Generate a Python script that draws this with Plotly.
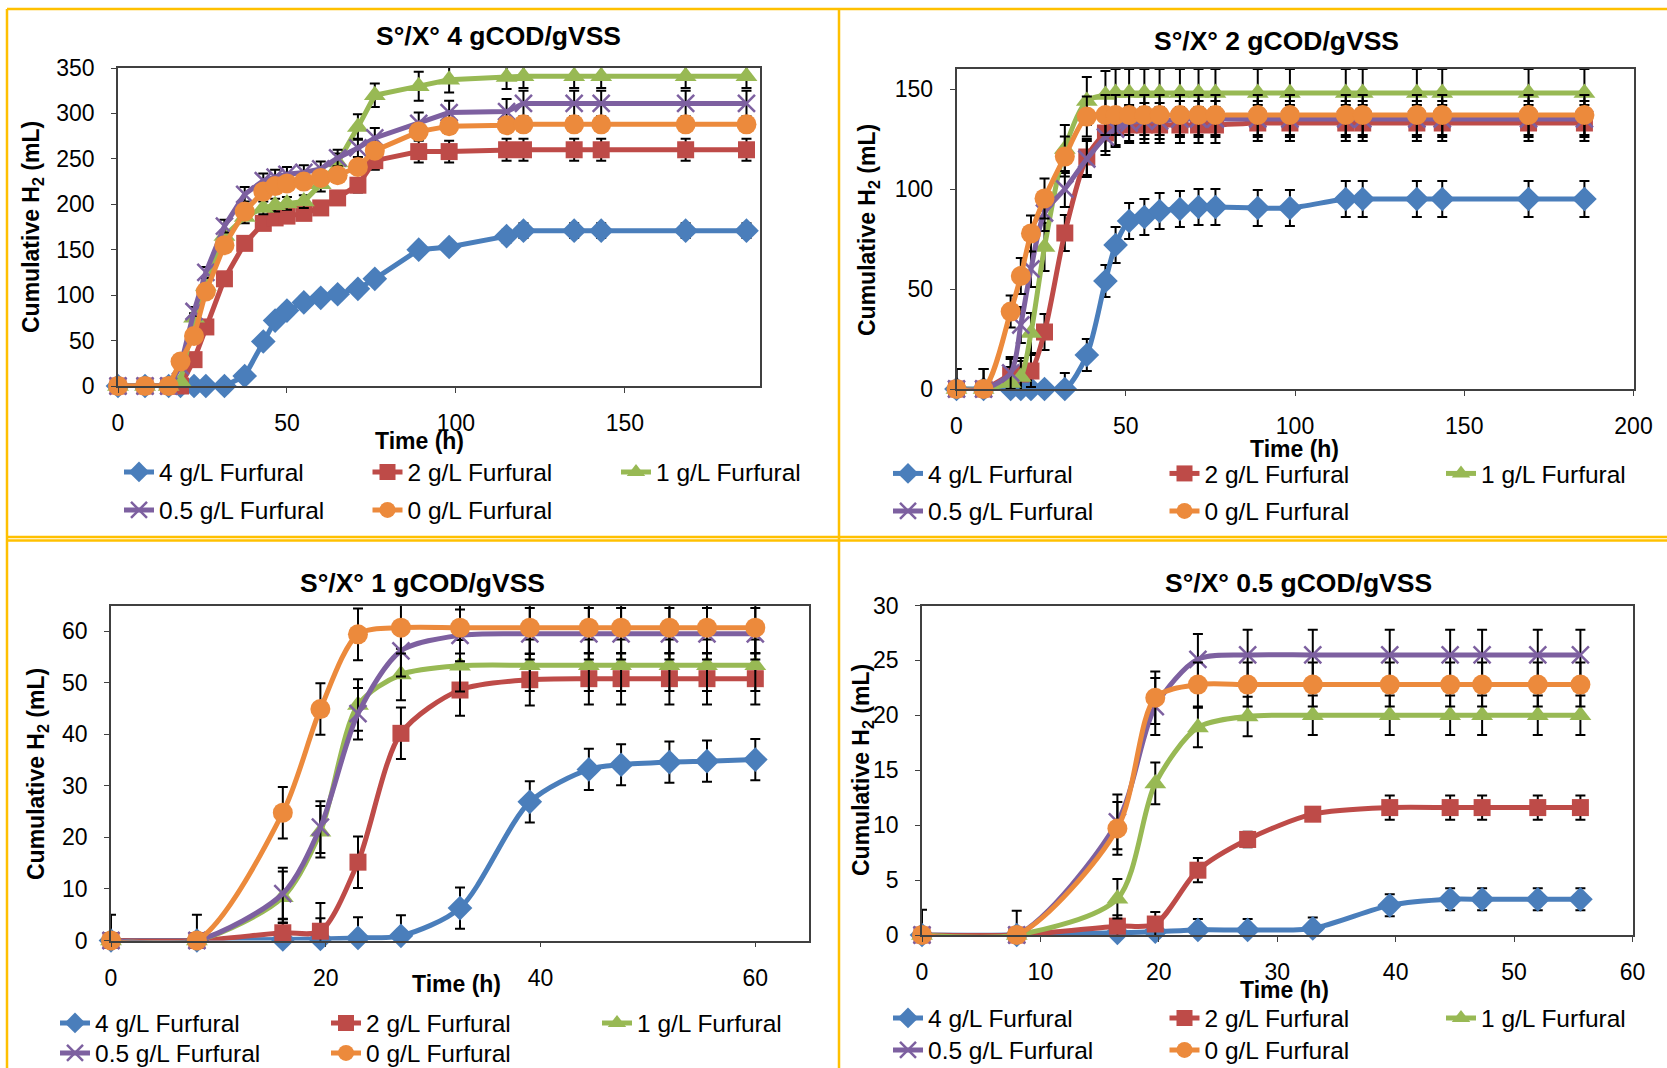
import plotly.graph_objects as go

W, H = 1667, 1068

series_names = ["4 g/L Furfural", "2 g/L Furfural", "1 g/L Furfural",
                "0.5 g/L Furfural", "0 g/L Furfural"]
panel_titles = ["S°/X° 4 gCOD/gVSS", "S°/X° 2 gCOD/gVSS",
                "S°/X° 1 gCOD/gVSS", "S°/X° 0.5 gCOD/gVSS"]

# ---------- Panel A : S°/X° 4 gCOD/gVSS ----------
t_a = [0, 8, 15, 18.5, 22.5, 26, 31.5, 37.5, 43, 46.5, 50, 55, 60, 65, 71, 76,
       89, 98, 115, 120, 135, 143, 168, 186]
a_f4 = [0, 0, 0, 0, 0, 0, 0, 11, 49, 72, 83, 92, 97, 101, 107, 118,
        150, 153, 165, 171, 171, 171, 171, 171]
a_f2 = [0, 0, 0, 0, 29, 65, 118, 157, 179, 185, 187, 190, 196, 207, 221, 248,
        258, 258, 260, 260, 260, 260, 260, 260]
a_f1 = [0, 0, 0, 5, 75, 110, 165, 186, 196, 199, 201, 203, 222, 246, 285, 320,
        330, 337, 340, 341, 341, 341, 341, 341]
a_f05 = [0, 0, 0, 22, 82, 125, 176, 211, 226, 230, 233, 235, 239, 251, 262, 273,
         289, 301, 302, 311, 311, 311, 311, 311]
a_f0 = [0, 0, 0, 27, 55, 104, 155, 192, 214, 220, 223, 225, 229, 232, 241, 259,
        280, 286, 287, 288, 288, 288, 288, 288]
a_e4 = [0, 0, 0, 0, 0, 0, 0, 3, 3, 4, 4, 4, 4, 5, 5, 5, 6, 6, 7, 8, 8, 8, 8, 8]
a_e2 = [0, 0, 0, 0, 3, 4, 5, 6, 6, 6, 6, 6, 7, 7, 8, 10, 12, 12, 12, 12, 12, 12, 12, 12]
a_e1 = [0, 0, 0, 0, 5, 6, 6, 7, 7, 7, 7, 7, 8, 10, 14, 13, 16, 14, 13, 13, 13, 13, 13, 13]
a_e05 = [0, 0, 0, 3, 5, 6, 7, 8, 8, 8, 8, 8, 8, 9, 10, 11, 12, 13, 14, 14, 14, 14, 14, 14]
a_e0 = [0, 0, 0, 3, 4, 5, 5, 6, 6, 6, 6, 6, 6, 7, 7, 8, 8, 8, 8, 8, 8, 8, 8, 8]

# ---------- Panel B : S°/X° 2 gCOD/gVSS ----------
t_b = [0, 8, 16, 19, 22, 26, 32, 38.5, 44, 47, 51, 55.5, 60, 66, 71.5, 76.5,
       89, 98.5, 115, 120, 136, 143.5, 169, 185.5]
b_f4 = [0, 0, 0, 0, 0, 0, 0, 17, 54, 72, 84, 86, 89, 90, 91, 91,
        90.5, 90.5, 95, 95, 95, 95, 95, 95]
b_f2 = [0, 0, 7, 7.5, 9, 28.5, 78, 116, 128, 131, 132, 132, 132, 132, 132, 132,
        133, 133, 133, 133, 133, 133, 133, 133]
b_f1 = [0, 0, 3, 6, 28, 71, 120, 144, 147, 148, 148, 148, 148, 148, 148, 148,
        148, 148, 148, 148, 148, 148, 148, 148]
b_f05 = [0, 0, 8, 32, 60, 88, 100, 115, 126, 130, 133, 134, 134, 135, 135, 135,
         135, 135, 135, 135, 135, 135, 135, 135]
b_f0 = [0, 0, 38.7, 56.5, 77.8, 95.3, 116.2, 136.2, 137, 137, 137, 137, 137, 137, 137, 137,
        137, 137, 137, 137, 137, 137, 137, 137]
b_e4 = [0, 0, 0, 0, 0, 0, 8, 8, 8, 9, 9, 9, 9, 9, 9, 9, 9, 9, 9, 9, 9, 9, 9, 9]
b_e2 = [10, 10, 8, 8, 8, 9, 9, 9, 9, 9, 9, 9, 9, 9, 9, 9, 9, 9, 9, 9, 9, 9, 9, 9]
b_e1 = [0, 0, 8, 8, 10, 12, 12, 12, 12, 12, 12, 12, 12, 12, 12, 12, 12, 12, 12, 12, 12, 12, 12, 12]
b_e05 = [0, 0, 8, 9, 9, 9, 9, 9, 9, 9, 9, 9, 9, 9, 9, 9, 9, 9, 9, 9, 9, 9, 9, 9]
b_e0 = [10, 10, 8, 9, 9, 10, 10, 10, 10, 10, 10, 10, 10, 10, 10, 10, 10, 10, 10, 10, 10, 10, 10, 10]

# ---------- Panel C : S°/X° 1 gCOD/gVSS ----------
t_c = [0, 8, 16, 19.5, 23, 27, 32.5, 39, 44.5, 47.5, 52, 55.5, 60]
c_f4 = [0, 0, 0.2, 0.3, 0.5, 0.9, 6.3, 26.9, 33.2, 34.1, 34.6, 34.8, 35.1]
c_f2 = [0, 0, 1.5, 1.8, 15.2, 40.2, 48.6, 50.6, 50.8, 50.8, 50.8, 50.8, 50.8]
c_f1 = [0, 0, 8.4, 21.1, 45.7, 51.6, 53.3, 53.4, 53.4, 53.4, 53.4, 53.4, 53.4]
c_f05 = [0, 0, 9.1, 22.0, 44.0, 56.2, 59.2, 59.5, 59.5, 59.5, 59.5, 59.5, 59.5]
c_f0 = [0, 0, 24.8, 44.9, 59.4, 60.7, 60.7, 60.7, 60.7, 60.7, 60.7, 60.7, 60.7]
c_e4 = [5, 5, 4, 4, 4, 4, 4, 4, 4, 4, 4, 4, 4]
c_e2 = [0, 0, 2, 5.5, 5, 5, 5, 5, 5, 5, 5, 5, 5]
c_e1 = [0, 0, 5, 5, 5, 5, 5, 5, 5, 5, 5, 5, 5]
c_e05 = [0, 0, 5, 5, 5, 5, 5, 5, 5, 5, 5, 5, 5]
c_e0 = [0, 0, 5, 5, 5, 5, 5, 5, 5, 5, 5, 5, 5]

# ---------- Panel D : S°/X° 0.5 gCOD/gVSS ----------
t_d = [0, 8, 16.5, 19.7, 23.3, 27.5, 33, 39.5, 44.6, 47.3, 52, 55.6]
d_f4 = [0, 0, 0.2, 0.3, 0.46, 0.46, 0.6, 2.7, 3.25, 3.25, 3.25, 3.25]
d_f2 = [0, 0, 0.8, 1.0, 5.9, 8.7, 11.0, 11.6, 11.6, 11.6, 11.6, 11.6]
d_f1 = [0, 0, 3.3, 13.8, 18.9, 19.9, 20.0, 20.0, 20.0, 20.0, 20.0, 20.0]
d_f05 = [0, 0, 10.3, 20.8, 25.1, 25.5, 25.5, 25.5, 25.5, 25.5, 25.5, 25.5]
d_f0 = [0, 0, 9.7, 21.6, 22.8, 22.8, 22.8, 22.8, 22.8, 22.8, 22.8, 22.8]
d_e4 = [2.3, 2.2, 0.8, 0.9, 1.0, 1.0, 1.0, 1.0, 1.0, 1.0, 1.0, 1.0]
d_e2 = [0, 0, 1.0, 1.1, 1.1, 0.7, 0.6, 1.1, 1.1, 1.1, 1.1, 1.1]
d_e1 = [0, 0, 1.8, 1.9, 1.8, 1.8, 1.8, 1.8, 1.8, 1.8, 1.8, 1.8]
d_e05 = [0, 0, 2.5, 2.6, 2.3, 2.3, 2.3, 2.3, 2.3, 2.3, 2.3, 2.3]
d_e0 = [0, 0, 2.4, 2.4, 2.0, 2.0, 2.0, 2.0, 2.0, 2.0, 2.0, 2.0]

# ---------- styling ----------
colors = ["#4A7EBB", "#BE4B48", "#98B954", "#7D60A0", "#EC8A3C"]
symbols = ["diamond", "square", "triangle-up", "x-thin", "circle"]
msizes = [19, 17, 19, 17, 20]
FONT = "Liberation Sans, Arial, sans-serif"


def px(x):
    return x / W


def py(y):
    return 1 - y / H


# panel layout in page pixels: (x0, x1, ytop, ybottom)
panels = [
    dict(t=t_a, ys=[a_f4, a_f2, a_f1, a_f05, a_f0], es=[a_e4, a_e2, a_e1, a_e05, a_e0],
         box=(118, 760, 68, 386), xr=[0, 190], xd=50, yr=[0, 350], yd=50, shape="linear",
         title=(499, 36), ytl=(32, 227), xtl=(419, 441),
         leg=(119, 203.5, 472, 510)),
    dict(t=t_b, ys=[b_f4, b_f2, b_f1, b_f05, b_f0], es=[b_e4, b_e2, b_e1, b_e05, b_e0],
         box=(956.5, 1633.5, 69, 389), xr=[0, 200], xd=50, yr=[0, 160], yd=50, shape="spline",
         title=(1276, 41), ytl=(869, 230), xtl=(1294, 449),
         leg=(888, 231.5, 473.5, 511)),
    dict(t=t_c, ys=[c_f4, c_f2, c_f1, c_f05, c_f0], es=[c_e4, c_e2, c_e1, c_e05, c_e0],
         box=(111, 809, 605.5, 940.5), xr=[0, 65], xd=20, yr=[0, 65], yd=10, shape="spline",
         title=(422, 583), ytl=(37, 774), xtl=(456, 984),
         leg=(55, 226, 1023, 1053)),
    dict(t=t_d, ys=[d_f4, d_f2, d_f1, d_f05, d_f0], es=[d_e4, d_e2, d_e1, d_e05, d_e0],
         box=(922, 1632.5, 605.5, 935), xr=[0, 60], xd=10, yr=[0, 30], yd=5, shape="spline",
         title=(1298, 583), ytl=(862, 770), xtl=(1284, 990),
         leg=(888, 231.5, 1018, 1050)),
]

fig = go.Figure()
layout = dict(width=W, height=H, margin=dict(l=0, r=0, t=0, b=0, autoexpand=False),
              paper_bgcolor="white", plot_bgcolor="white",
              font=dict(family=FONT, color="black"), annotations=[], shapes=[])

for p_i, p in enumerate(panels):
    sfx = "" if p_i == 0 else str(p_i + 1)
    x0, x1, yt, yb = p["box"]
    for s_i in range(5):
        k = 2 * p_i + (0 if s_i < 3 else 1)
        legname = "legend" + ("" if k == 0 else str(k + 1))
        mk = dict(symbol=symbols[s_i], size=msizes[s_i], color=colors[s_i],
                  line=dict(color=colors[s_i], width=2.5 if s_i == 3 else 0))
        fig.add_trace(go.Scatter(
            x=p["t"], y=p["ys"][s_i], name=series_names[s_i],
            mode="lines+markers", xaxis="x" + sfx, yaxis="y" + sfx,
            line=dict(color=colors[s_i], width=5, shape=p["shape"], smoothing=0.8),
            marker=mk, cliponaxis=False, legend=legname,
            error_y=dict(type="data", array=p["es"][s_i], color="black",
                         thickness=2, width=5),
        ))
    axcommon = dict(showline=True, mirror=True, linecolor="#404040", linewidth=1.5,
                    showgrid=False, zeroline=False, ticks="outside", ticklen=5,
                    tickcolor="#404040", tickfont=dict(size=23, family=FONT, color="black"),
                    fixedrange=True, automargin=False)
    layout["xaxis" + sfx] = dict(axcommon, domain=[px(x0), px(x1)], range=p["xr"],
                                 dtick=p["xd"], tick0=0, anchor="y" + sfx,
                                 ticklabelstandoff=11)
    layout["yaxis" + sfx] = dict(axcommon, domain=[py(yb), py(yt)], range=p["yr"],
                                 dtick=p["yd"], tick0=0, anchor="x" + sfx,
                                 ticklabelstandoff=12)
    layout["annotations"].append(dict(
        text="<b>" + panel_titles[p_i] + "</b>", xref="paper", yref="paper",
        x=px(p["title"][0]), y=py(p["title"][1]), xanchor="center", yanchor="middle",
        showarrow=False, font=dict(size=26.5, family=FONT)))
    layout["annotations"].append(dict(
        text="<b>Cumulative H<sub>2</sub> (mL)</b>", xref="paper", yref="paper",
        x=px(p["ytl"][0]), y=py(p["ytl"][1]), xanchor="center", yanchor="middle",
        textangle=-90, showarrow=False, font=dict(size=23, family=FONT)))
    layout["annotations"].append(dict(
        text="<b>Time (h)</b>", xref="paper", yref="paper",
        x=px(p["xtl"][0]), y=py(p["xtl"][1]), xanchor="center", yanchor="middle",
        showarrow=False, font=dict(size=23, family=FONT)))
    lx, ew, r1, r2 = p["leg"]
    for r_i, ry in enumerate([r1, r2]):
        k = 2 * p_i + r_i
        lname = "legend" + ("" if k == 0 else str(k + 1))
        layout[lname] = dict(x=px(lx), y=py(ry), xanchor="left", yanchor="middle",
                             orientation="h", entrywidth=ew, entrywidthmode="pixels",
                             bgcolor="rgba(0,0,0,0)", font=dict(size=24.5, family=FONT),
                             traceorder="normal", itemclick=False, itemdoubleclick=False)

# gold panel frames
gold = dict(color="#FFC000", width=2.5)
for (ax0, ay0, ax1, ay1) in [(7, 9, W, 9), (7, 9, 7, H), (839, 9, 839, H),
                             (7, 537, W, 537), (7, 540.5, W, 540.5)]:
    layout["shapes"].append(dict(type="line", xref="paper", yref="paper",
                                 x0=px(ax0), y0=py(ay0), x1=px(ax1), y1=py(ay1),
                                 line=gold, layer="above"))

fig.update_layout(**layout)
fig.write_html("out.html")
